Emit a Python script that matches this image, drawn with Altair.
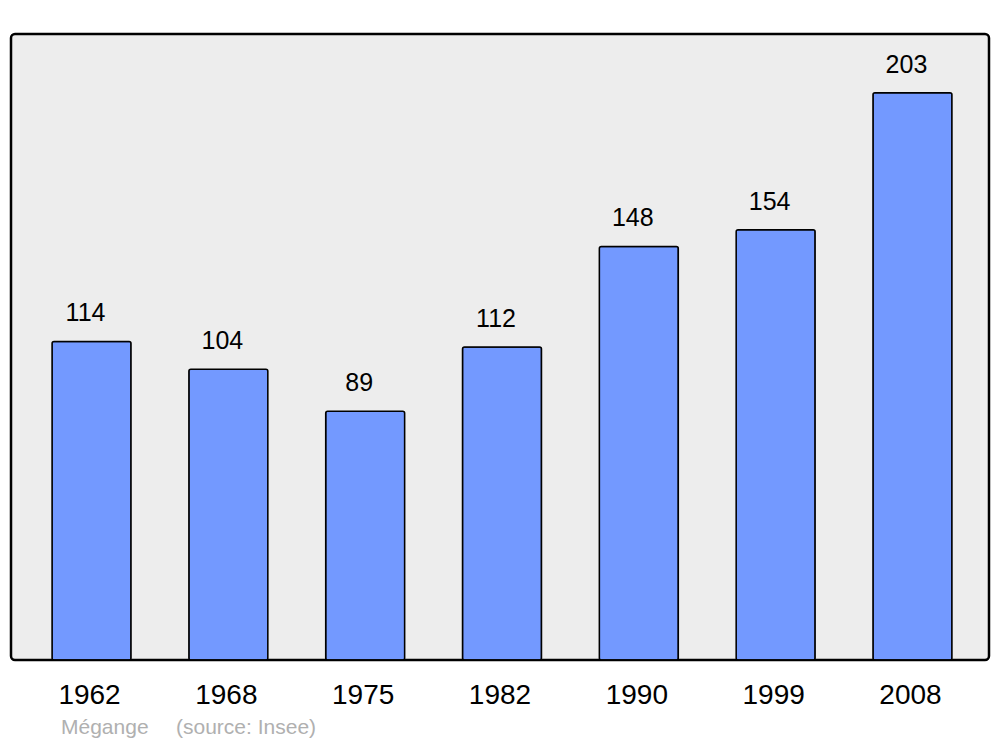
import altair as alt
import pandas as pd

years = ["1962", "1968", "1975", "1982", "1990", "1999", "2008"]
population = [114, 104, 89, 112, 148, 154, 203]
source_name = "Mégange"
source_note = "(source: Insee)"

df = pd.DataFrame({"year": years, "pop": population})

x = alt.X("year:N", sort=years, title=None,
          scale=alt.Scale(paddingInner=0.4227, paddingOuter=0.3, range=[0, 982]),
          axis=alt.Axis(labelAngle=0, labelFontSize=28, labelFont="Liberation Sans",
                        labelColor="black", domain=False, ticks=False, tickSize=0,
                        labelPadding=35, labelBaseline="middle", labelOffset=-2))
y = alt.Y("pop:Q", title=None, scale=alt.Scale(domain=[0, 224], nice=False), axis=None)

bars = alt.Chart(df).mark_bar(color="#7399ff", stroke="black", strokeWidth=1.5,
                              cornerRadius=2).encode(x=x, y=y)

labels = alt.Chart(df).mark_text(font="Liberation Sans", fontSize=25, color="black",
                                 baseline="middle", dy=-28, dx=-6).encode(
    x=alt.X("year:N", sort=years), y="pop:Q", text="pop:Q")

src1 = alt.Chart(pd.DataFrame({"t": [source_name]})).mark_text(
    font="Liberation Sans", fontSize=21, color="#b0b0b0", align="left", baseline="middle"
).encode(x=alt.value(50), y=alt.value(694), text="t:N")

src2 = alt.Chart(pd.DataFrame({"t": [source_note]})).mark_text(
    font="Liberation Sans", fontSize=21, color="#b0b0b0", align="left", baseline="middle"
).encode(x=alt.value(165), y=alt.value(694), text="t:N")

chart = alt.layer(bars, labels, src1, src2).properties(
    width=978, height=626,
    autosize=alt.AutoSizeParams(type="none"),
    padding={"left": 3, "top": 26, "right": 2, "bottom": 79},
    background="white",
).configure_view(
    fill="#ededed", stroke="black", strokeWidth=2.5, cornerRadius=4
)

chart.save("out.html", embed_options={"renderer": "svg", "actions": False})
